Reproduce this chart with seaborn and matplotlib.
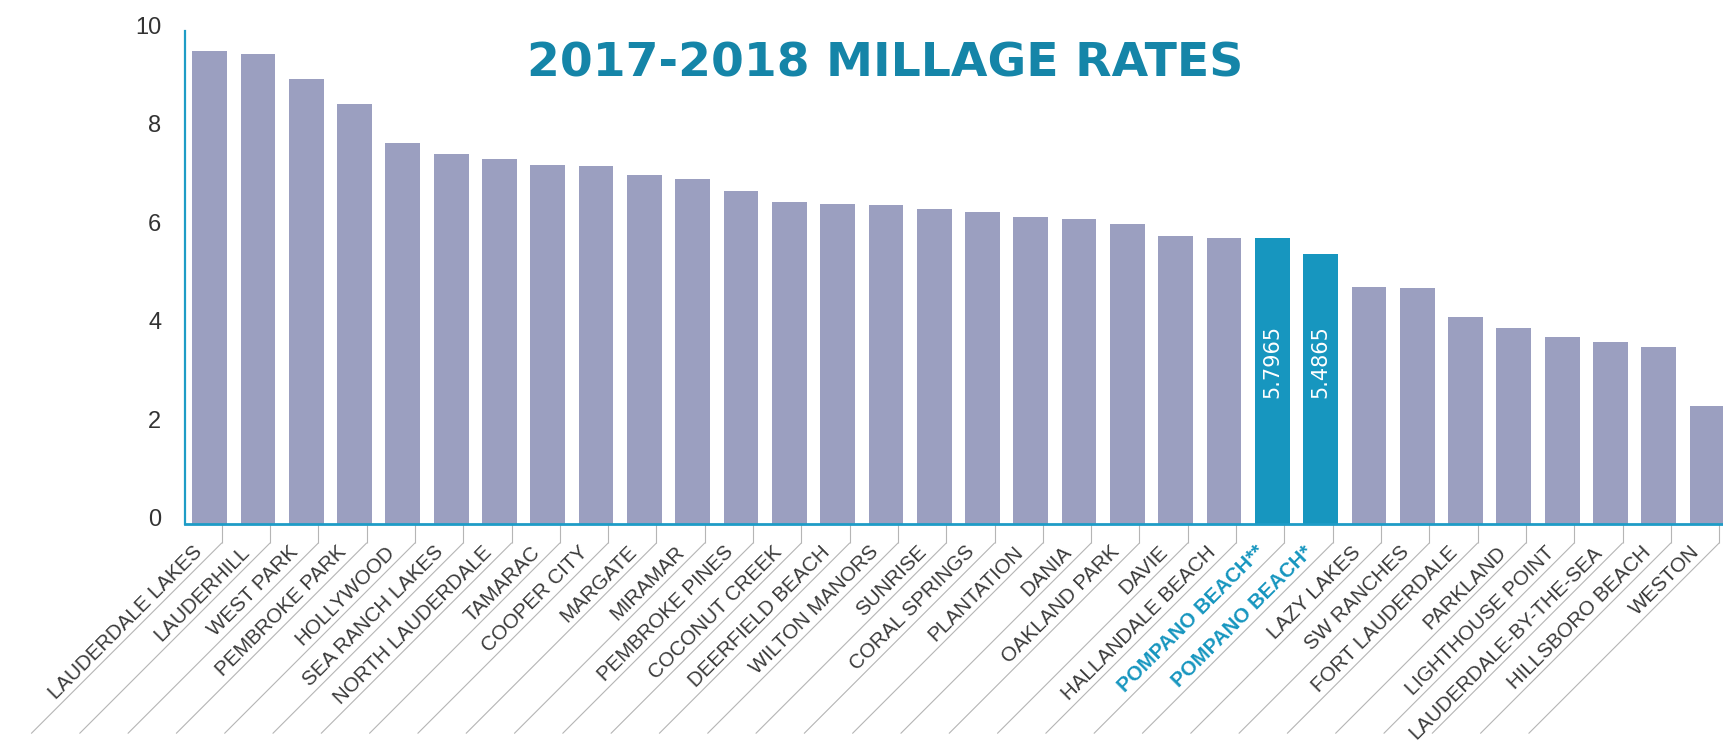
import numpy as np
import pandas as pd
import seaborn as sns
import matplotlib.pyplot as plt
import matplotlib.transforms as mtransforms

cities = ['LAUDERDALE LAKES', 'LAUDERHILL', 'WEST PARK', 'PEMBROKE PARK', 'HOLLYWOOD',
          'SEA RANCH LAKES', 'NORTH LAUDERDALE', 'TAMARAC', 'COOPER CITY', 'MARGATE',
          'MIRAMAR', 'PEMBROKE PINES', 'COCONUT CREEK', 'DEERFIELD BEACH', 'WILTON MANORS',
          'SUNRISE', 'CORAL SPRINGS', 'PLANTATION', 'DANIA', 'OAKLAND PARK', 'DAVIE',
          'HALLANDALE BEACH', 'POMPANO BEACH**', 'POMPANO BEACH*', 'LAZY LAKES', 'SW RANCHES',
          'FORT LAUDERDALE', 'PARKLAND', 'LIGHTHOUSE POINT', 'LAUDERDALE-BY-THE-SEA',
          'HILLSBORO BEACH', 'WESTON']
rates = [9.59, 9.54, 9.03, 8.52, 7.73, 7.51, 7.40, 7.28, 7.26, 7.07,
         7.00, 6.76, 6.54, 6.49, 6.47, 6.38, 6.32, 6.23, 6.19, 6.09, 5.85,
         5.81, 5.7965, 5.4865, 4.81, 4.78, 4.20, 3.97, 3.79, 3.70,
         3.60, 2.40]
highlight = ['POMPANO BEACH**', 'POMPANO BEACH*']

GRAY = '#9b9fc0'
TEAL = '#1796bf'
AXIS = '#1e9cc6'
TITLE = '#1585a8'

df = pd.DataFrame({'city': cities, 'rate': rates})
palette = {c: (TEAL if c in highlight else GRAY) for c in cities}

fig = plt.figure(figsize=(17.23, 7.49), dpi=100)
ax = fig.add_axes([185 / 1723, 225 / 749, 1538 / 1723, 493 / 749])

sns.barplot(data=df, x='city', y='rate', hue='city', palette=palette, legend=False,
            width=0.72, saturation=1, ax=ax)

ax.set_xlim(-0.51, 31.33)
ax.set_ylim(0, 10)
ax.set_xlabel('')
ax.set_ylabel('')
for s in ['top', 'right']:
    ax.spines[s].set_visible(False)
ax.spines['left'].set_color(AXIS)
ax.spines['left'].set_linewidth(1.6)
ax.spines['bottom'].set_color(AXIS)
ax.spines['bottom'].set_linewidth(2)

# y axis
ax.set_yticks(range(0, 11, 2))
ax.tick_params(axis='y', length=0, pad=17, labelsize=17, labelcolor='#333333')
for lab in ax.get_yticklabels():
    lab.set_fontfamily('Liberation Sans')
    lab.set_transform(lab.get_transform() + mtransforms.ScaledTranslation(0, 0.06, fig.dpi_scale_trans))

# x axis: ticks at the right side of each bar, labels sitting on diagonal leader lines
pos = np.arange(len(cities)) + 0.25
ax.set_xticks(pos)
ax.set_xticklabels(cities)
ax.tick_params(axis='x', length=13.7, width=0.8, color='#b5b5b5', pad=7.2)
shift = mtransforms.ScaledTranslation(-0.19, 0, fig.dpi_scale_trans)
for lab, c in zip(ax.get_xticklabels(), cities):
    lab.set_rotation(45)
    lab.set_rotation_mode('anchor')
    lab.set_ha('right')
    lab.set_va('baseline')
    lab.set_fontfamily('Liberation Sans')
    lab.set_fontsize(14.8)
    lab.set_transform(lab.get_transform() + shift)
    if c in highlight:
        lab.set_color(TEAL)
        lab.set_fontweight('bold')
    else:
        lab.set_color('#3a3a3a')

# diagonal leader lines from the bottom of each tick
tick_end = mtransforms.blended_transform_factory(ax.transData, ax.transAxes) + \
    mtransforms.ScaledTranslation(0, -0.19, fig.dpi_scale_trans)
for p in pos:
    ax.annotate('', xy=(p, 0), xycoords=tick_end, xytext=(-137, -137),
                textcoords='offset points', annotation_clip=False,
                arrowprops=dict(arrowstyle='-', color='#b5b5b5', lw=0.8,
                                shrinkA=0, shrinkB=0))

# values written inside the highlighted bars
for i, (c, v) in enumerate(zip(cities, rates)):
    if c in highlight:
        ax.text(i, 3.3, f'{v:.4f}', rotation=90, ha='center', va='center',
                color='white', fontsize=15, fontfamily='DejaVu Sans')

fig.text(885 / 1723, 1 - 64 / 749, '2017-2018 MILLAGE RATES', ha='center', va='center',
         fontsize=34, fontweight='bold', color=TITLE, fontfamily='DejaVu Sans')

fig.savefig('out.png', dpi=100, facecolor='white')
